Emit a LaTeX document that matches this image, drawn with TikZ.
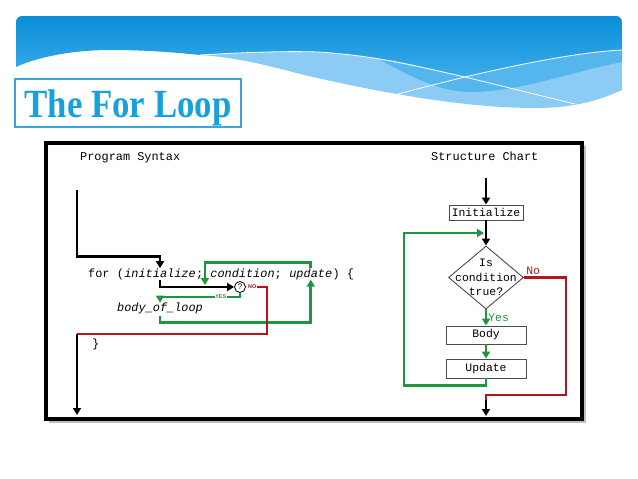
\documentclass[tikz,border=0pt]{standalone}
\usepackage{graphicx}
\usepackage{fontspec}
\setmainfont{Liberation Serif}
\setsansfont{Liberation Sans}
\setmonofont{Liberation Mono}
\usetikzlibrary{arrows.meta,positioning,shapes.geometric}
\definecolor{okgreen}{RGB}{30,150,60}
\definecolor{nored}{RGB}{178,22,26}
\definecolor{skyblue}{RGB}{22,160,220}
\definecolor{boxblue}{RGB}{60,165,222}
\definecolor{bandtop}{RGB}{10,142,216}
\definecolor{bandbot}{RGB}{58,172,234}
\definecolor{bandmid}{RGB}{84,182,237}
\definecolor{bandlow}{RGB}{140,204,244}
\tikzset{
    code/.style={inner sep=0pt, anchor=base west, font=\ttfamily\fontsize{11.9}{14}\selectfont},
    chartbox/.style={draw=black!70, line width=0.9pt, minimum width=80pt, minimum height=18pt,
        inner sep=0pt, font=\ttfamily\fontsize{11.4}{14}\selectfont},
    decide/.style={diamond, draw=black!70, line width=0.9pt, minimum width=75pt, minimum height=63pt,
        inner sep=0pt, align=center, font=\ttfamily\fontsize{11.4}{14.5}\selectfont},
    chartlbl/.style={inner sep=1pt, font=\ttfamily\fontsize{11.4}{14}\selectfont},
    tag/.style={inner sep=0.6pt, font=\sffamily\bfseries\fontsize{5.5}{6}\selectfont},
    flow/.style={line width=2.8pt, -{Triangle[length=7pt,width=8pt]}},
    wire/.style={line width=2.8pt},
}
\begin{document}
\begin{tikzpicture}[x=1pt, y=-1pt]
    \useasboundingbox (0,0) rectangle (638,479);
    \fill[white] (0,0) rectangle (638,479);
    % banner
    \fill[bandlow] (200,55) .. controls (230,57) and (260,63) .. (300,74)
        .. controls (390,95) and (470,108) .. (535,108)
        .. controls (575,108) and (600,100) .. (622,90) -- (622,30) -- (200,30) -- cycle;
    \fill[bandmid] (380,60) .. controls (420,67) and (445,73) .. (465,77)
        .. controls (520,64) and (580,52) .. (622,50) -- (622,62)
        .. controls (570,72) and (520,92) .. (470,92)
        .. controls (440,92) and (410,76) .. (380,60) -- cycle;
    \shade[top color=bandtop, bottom color=bandbot] (16,67) [rounded corners=6pt] -- (16,16) -- (622,16)
        [sharp corners] -- (622,50) .. controls (580,52) and (520,64) .. (465,77)
        .. controls (420,67) and (380,56) .. (318,52)
        .. controls (290,51) and (250,52) .. (200,55)
        .. controls (180,53) and (150,50) .. (110,50)
        .. controls (70,50) and (35,58) .. (16,67) -- cycle;
    \draw[white, line width=0.8pt] (200,55) .. controls (250,52) and (290,51) .. (318,52)
        .. controls (380,56) and (420,67) .. (465,77) .. controls (510,88) and (550,98) .. (575,104);
    \draw[white, line width=0.8pt] (391,96) .. controls (420,88) and (445,82) .. (465,77)
        .. controls (520,64) and (580,52) .. (622,50);
    % title
    \node[draw=boxblue, line width=1.2pt, minimum width=226pt, minimum height=48pt, inner sep=0pt,
        text height=33pt, text depth=5pt, text=skyblue, font=\bfseries\fontsize{40}{40}\selectfont]
        (title) at (128,103) {\scalebox{0.87}[1]{The For Loop}};
    % frame
    \fill[black!25] (49,146) rectangle (586,423);
    \fill[white] (46,143) rectangle (582,419);
    \draw[line width=3.2pt] (46,143) rectangle (582,419);

    % program syntax
    \node[code] (synhead) at (80,160) {Program Syntax};
    \node[code] (forkw) at (88,277) {for (};
    \node[code] (init) at (forkw.base east) {\textit{initialize}};
    \node[code] (cond) at (init.base east) {;\ \textit{condition};};
    \node[code] (upd) at ([xshift=7.14pt]cond.base east) {\textit{update}};
    \node[code] (brace) at (upd.base east) {)\ \{};
    \node[code] (body) at (117,311.5) {\textit{body\_of\_loop}};
    \node[code] (close) at (92,347.5) {\}};
    \node[draw, circle, line width=0.8pt, inner sep=0pt, minimum size=11pt,
        font=\sffamily\fontsize{8}{8}\selectfont] (test) at (240,287) {?};
    \node[tag, text=nored, right=1.5pt of test] (no) {NO};
    \coordinate (entryL) at (77,190);
    \coordinate (merge) at (205,285);
    \coordinate (redturn) at (267,334);
    \coordinate (exitL) at (77,334);
    \coordinate (endL) at (77,415);

    \draw[flow] (entryL) |- ([yshift=12pt]init.north) -- (init.north);
    \draw[flow] ([yshift=-3pt]init.south) |- (test);
    \draw[flow, okgreen] (test.south) -- ++(0,4)
        -| node[tag, text=okgreen, fill=white, pos=0.12] {YES} (body.north);
    \draw[flow, okgreen] ([yshift=-2pt]body.south) -- ++(0,6) -| (upd.south);
    \draw[flow, okgreen] (upd.north) -- ++(0,-6) -| (merge);
    \draw[wire, nored] (no) -| (redturn) -- (exitL);
    \draw[flow] (exitL) -- (endL);

    % structure chart
    \node[code] (charthead) at (431,160) {Structure Chart};
    \node[chartbox, minimum width=74pt, minimum height=15pt] (start) at (486,212.5) {Initialize};
    \node[decide] (check) at (486,277.5)
        {\makebox[0pt]{Is}\\\makebox[0pt]{condition}\\\makebox[0pt]{true?}};
    \node[chartbox] (bodybox) at (486,335) {Body};
    \node[chartbox, minimum height=19pt] (updbox) at (486,368.5) {Update};
    \coordinate (entryR) at (486,178);
    \coordinate (loopL) at (404,233);
    \coordinate (loopR) at (566,395);
    \coordinate (exitR) at (486,400);
    \coordinate (endR) at (486,416);

    \draw[flow] (entryR) -- (start);
    \draw[flow] (start) -- (check);
    \draw[flow, okgreen] (check) -- node[chartlbl, right] {Yes} (bodybox);
    \draw[flow, okgreen] (bodybox) -- (updbox);
    \draw[flow, okgreen] (updbox.south) -- ++(0,7) -| (loopL) -- ([xshift=-2pt]loopL -| start.south);
    \draw[wire, nored] (check.east) node[chartlbl, anchor=south west] {No} -| (loopR) -| (exitR);
    \draw[flow] (exitR) -- (endR);
\end{tikzpicture}
\end{document}
